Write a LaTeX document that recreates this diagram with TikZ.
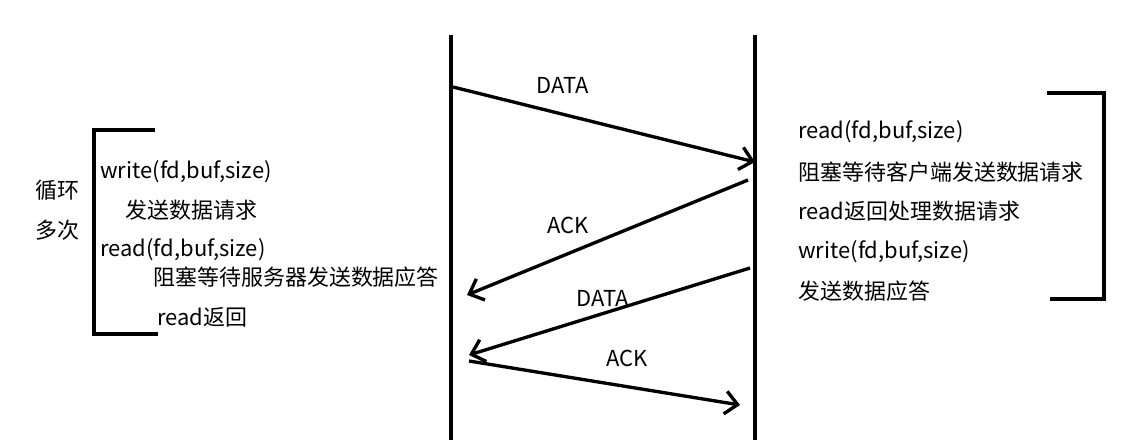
\documentclass[tikz,border=0pt]{standalone}
\usepackage{fontspec}
\setmainfont{Noto Sans CJK SC}
\usetikzlibrary{arrows.meta}

\begin{document}
\begin{tikzpicture}[x=0.02cm,y=-0.02cm,
  line/.style={black, line width=1.9pt},
  msg/.style={line, -{Straight Barb[length=7pt,width=13pt,line width=1.9pt]}},
  txt/.style={font=\fontsize{12.5}{15}\selectfont, anchor=west, inner sep=0pt},
  lbl/.style={font=\fontsize{12.5}{15}\selectfont, inner sep=0pt}]
\useasboundingbox (0,0) rectangle (1141,445);
% client and server lines
\coordinate (cltop) at (451,35);
\coordinate (clbot) at (451,440);
\coordinate (svtop) at (755,35);
\coordinate (svbot) at (755,440);
\draw[line] (cltop) -- (clbot);
\draw[line] (svtop) -- (svbot);
% message ends
\coordinate (d1s) at (453,87);  \coordinate (d1e) at (755,162);
\coordinate (a1s) at (748,180); \coordinate (a1e) at (467,295);
\coordinate (d2s) at (750,268); \coordinate (d2e) at (469,355);
\coordinate (a2s) at (469,361); \coordinate (a2e) at (740,405);
\draw[msg] (d1s) -- (d1e);
\draw[msg] (a1s) -- (a1e);
\draw[msg] (d2s) -- (d2e);
\draw[msg] (a2s) -- (a2e);
\node[lbl] (data1) at (563,85) {DATA};
\node[lbl] (ack1) at (568,225) {ACK};
\node[lbl] (data2) at (603,298) {DATA};
\node[lbl] (ack2) at (627,358) {ACK};
% client side
\coordinate (lb1) at (155,130); \coordinate (lb2) at (94,130);
\coordinate (lb3) at (94,334);  \coordinate (lb4) at (158,334);
\draw[line] (lb1) -- (lb2) -- (lb3) -- (lb4);
\node[txt] (loop1) at (35,190) {循环};
\node[txt] (loop2) at (35,230) {多次};
\node[txt] (cw) at (100,172) {write(fd,buf,size)};
\node[txt] (cwtxt) at (125,210) {发送数据请求};
\node[txt] (cr) at (100,250) {read(fd,buf,size)};
\node[txt] (crtxt) at (153,277) {阻塞等待服务器发送数据应答};
\node[txt] (cret) at (157,317) {read返回};
% server side
\coordinate (rb1) at (1047,93);  \coordinate (rb2) at (1104,93);
\coordinate (rb3) at (1104,299); \coordinate (rb4) at (1050,299);
\draw[line] (rb1) -- (rb2) -- (rb3) -- (rb4);
\node[txt] (sr) at (798,132) {read(fd,buf,size)};
\node[txt] (srtxt) at (798,172) {阻塞等待客户端发送数据请求};
\node[txt] (sret) at (798,211) {read返回处理数据请求};
\node[txt] (sw) at (798,252) {write(fd,buf,size)};
\node[txt] (swtxt) at (798,291) {发送数据应答};
\end{tikzpicture}
\end{document}
